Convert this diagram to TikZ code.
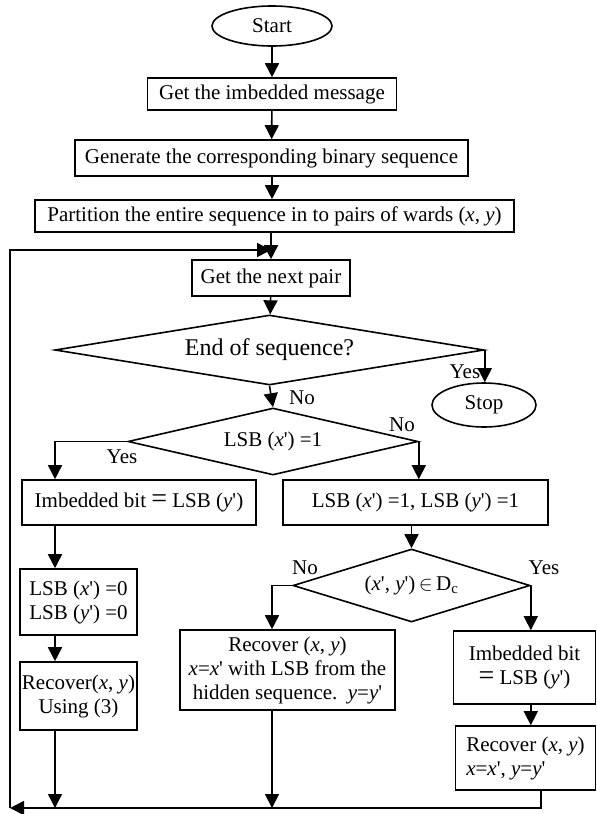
\documentclass[tikz,border=0pt]{standalone}
\usepackage{fontspec}
\setmainfont{Liberation Serif}
\usetikzlibrary{arrows.meta,shapes.geometric}
\newcommand{\bigeq}{\smash{\fontsize{28}{20}\selectfont =}}
\newcommand{\pr}{\textquotesingle}
\begin{document}
\begin{tikzpicture}[x=1pt,y=-1pt, line width=1.6pt,
  font=\fontsize{21}{24}\selectfont,
  box/.style={draw, rectangle, inner sep=0pt, align=center},
  term/.style={draw, ellipse, inner sep=0pt},
  dec/.style={draw, diamond, inner sep=0pt},
  arr/.style={-{Triangle[length=14pt,width=14pt]}},
  lbl/.style={inner sep=0pt}
]
\useasboundingbox (0,0) rectangle (597,814);
% nodes
\node[term, minimum width=120, minimum height=40] (start) at (272,26) {Start};
\node[box, minimum width=249, minimum height=32] (b1) at (272,94) {Get the imbedded message};
\node[box, minimum width=393, minimum height=36] (b2) at (271.5,158) {Generate the corresponding binary sequence};
\node[box, minimum width=479, minimum height=32] (b3) at (274.5,216) {Partition the entire sequence in to pairs of wards (\textit{x}, \textit{y})};
\node[box, minimum width=158, minimum height=36] (b4) at (271,278) {Get the next pair};
\node[dec, aspect=5.6, minimum width=429, minimum height=70, font=\fontsize{24}{26}\selectfont] (d1) at (269.5,350) {End of sequence?};
\node[term, minimum width=104, minimum height=44] (stop) at (484,405) {Stop};
\node[dec, aspect=4.3, minimum width=290, minimum height=67] (d2) at (273,441.5) {LSB (\textit{x}\pr) =1};
\node[box, minimum width=234, minimum height=45] (b5) at (139,502.5) {Imbedded bit \bigeq{} LSB (\textit{y}\pr)};
\node[box, minimum width=265, minimum height=45] (b6) at (415.5,502.5) {LSB (\textit{x}\pr) =1, LSB (\textit{y}\pr) =1};
\node[box, minimum width=117, minimum height=66] (b7) at (78.5,602) {LSB (\textit{x}\pr) =0\\LSB (\textit{y}\pr) =0};
\node[box, minimum width=117, minimum height=68] (b8) at (78.5,696) {Recover(\textit{x}, \textit{y})\\Using (3)};
\node[dec, aspect=3.25, minimum width=237, minimum height=73] (d3) at (411.5,585.5) {(\textit{x}\pr, \textit{y}\pr)$\,\in\,$D\textsubscript{c}};
\node[box, minimum width=215, minimum height=80] (b9) at (287.5,670) {Recover (\textit{x}, \textit{y})\\\textit{x}=\textit{x}\pr{} with LSB from the\\hidden sequence.\ \ \textit{y}=\textit{y}\pr};
\node[box, minimum width=142, minimum height=73] (b10) at (524.5,667.5) {Imbedded bit\\\bigeq{} LSB (\textit{y}\pr)};
\node[box, minimum width=140, minimum height=64, align=left] (b11) at (525.5,758) {Recover (\textit{x}, \textit{y})\\\textit{x}=\textit{x}\pr, \textit{y}=\textit{y}\pr};
% coordinates for the loop
\coordinate (loopend) at (10,808);
\coordinate (looptop) at (10,250);
\coordinate (joint) at (271,250);
% connectors
\draw[arr] (start) -- (b1);
\draw[arr] (b1) -- (b2);
\draw[arr] (b2.south -| b1.south) -- (b1.south |- b3.north);
\draw[arr] (b3.south -| b4.north) -- (b4);
\draw[arr] (loopend) -- (looptop) -- (joint);
\draw[arr] (b4) -- (d1);
\draw[arr] (d1.east) -- (d1.east |- stop.north);
\draw[arr] (d1.south) -- (d2.north);
\draw[arr] (d2.west) -| (b5.north -| 55,0);
\draw[arr] (d2.east) -- (d2.east |- b6.north);
\draw[arr] (b5.south -| 55,0) -- (b7.north -| 55,0);
\draw[arr] (b7.south -| 55,0) -- (b8.north -| 55,0);
\draw[arr] (b6.south -| d3.north) -- (d3.north);
\draw[arr] (d3.west) -| (b9.north -| 272,0);
\draw[arr] (d3.east) -- (d3.east |- b10.north);
\draw[arr] (b10.south -| d3.east) -- (d3.east |- b11.north);
\draw[arr] (b8.south -| 55,0) -- (55,808);
\draw[arr] (b9.south -| 272,0) -- (272,808);
\draw[arr] (b11.south -| 541,0) -- (541,808) -- (loopend);
% labels
\node[lbl, anchor=east] (l1) at (481,372) {Yes};
\node[lbl] (l2) at (302,398) {No};
\node[lbl] (l3) at (402,425) {No};
\node[lbl] (l4) at (122,457) {Yes};
\node[lbl] (l5) at (305,568) {No};
\node[lbl] (l6) at (544,568) {Yes};
\end{tikzpicture}
\end{document}
